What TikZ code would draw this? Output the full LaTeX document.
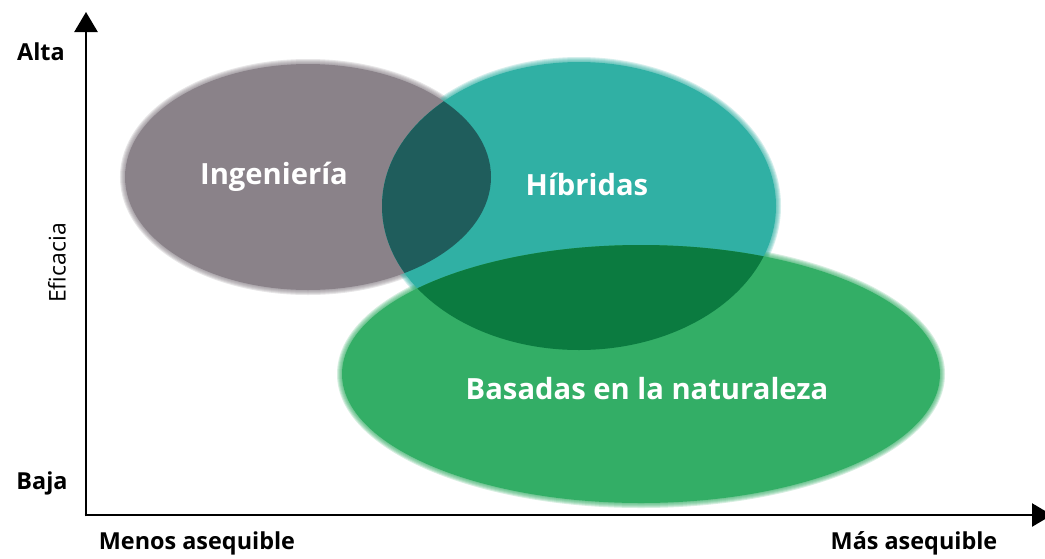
\documentclass[tikz,border=0pt]{standalone}
\usepackage{fontspec}
\setmainfont{Open Sans}
\usetikzlibrary{arrows.meta}
\definecolor{cgray}{HTML}{8A8289}
\definecolor{cteal}{HTML}{30B0A4}
\definecolor{cgreen}{HTML}{33AE66}
\definecolor{cgrayteal}{HTML}{1F5D5C}
\definecolor{ctealgreen}{HTML}{0B7B40}
\tikzset{
  big/.style={text=white, font=\bfseries\fontsize{29.2}{33}\selectfont, inner sep=0pt},
  axlabel/.style={text=black, font=\bfseries\fontsize{23.4}{27}\selectfont, inner sep=0pt},
  soft/.style={draw=#1, opacity=0.2},
  axis/.style={line width=2.6pt, -{Triangle[length=20pt,width=23pt]}}
}
\newcommand{\softedge}[4]{%
  \foreach \w in {2,4,6,8,10} {\path[soft=#1, line width=\w pt] (#2) ellipse [x radius=#3, y radius=#4];}}
\begin{document}
\begin{tikzpicture}[x=1pt,y=-1pt]
\useasboundingbox (0,0) rectangle (1045,558);
\fill[white] (0,0) rectangle (1045,558);
% soft outer edges
\softedge{cgray}{308,177}{183}{113}
\softedge{cteal}{579,206}{197}{144}
\softedge{cgreen}{641,374}{299}{129}
% fills
\fill[cgray] (308,177) ellipse [x radius=183, y radius=113];
\fill[cteal] (579,206) ellipse [x radius=197, y radius=144];
\fill[cgreen] (641,374) ellipse [x radius=299, y radius=129];
\begin{scope}
  \clip (579,206) ellipse [x radius=197, y radius=144];
  \fill[cgrayteal] (308,177) ellipse [x radius=183, y radius=113];
\end{scope}
\begin{scope}
  \clip (641,374) ellipse [x radius=299, y radius=129];
  \fill[ctealgreen] (579,206) ellipse [x radius=197, y radius=144];
\end{scope}
% labels
\node[big] (ing) at (274,177) {Ingeniería};
\node[big] (hib) at (587,184) {Híbridas};
\node[big] (nat) at (647,389) {Basadas en la naturaleza};
% axes
\coordinate (ytop) at (86,12);
\coordinate (xend) at (1052,515);
\draw[axis] (86,516.3) -- (ytop);
\draw[axis] (84.7,515) -- (xend);
\node[axlabel] (alta) at (41,52) {Alta};
\node[axlabel] (baja) at (42,483) {Baja};
\node[axlabel] (menos) at (197,543) {Menos asequible};
\node[axlabel] (mas) at (914,543) {Más asequible};
\node[font=\fontsize{23}{27}\selectfont, inner sep=0pt, rotate=90] (efi) at (57,263) {Eficacia};
\end{tikzpicture}
\end{document}
